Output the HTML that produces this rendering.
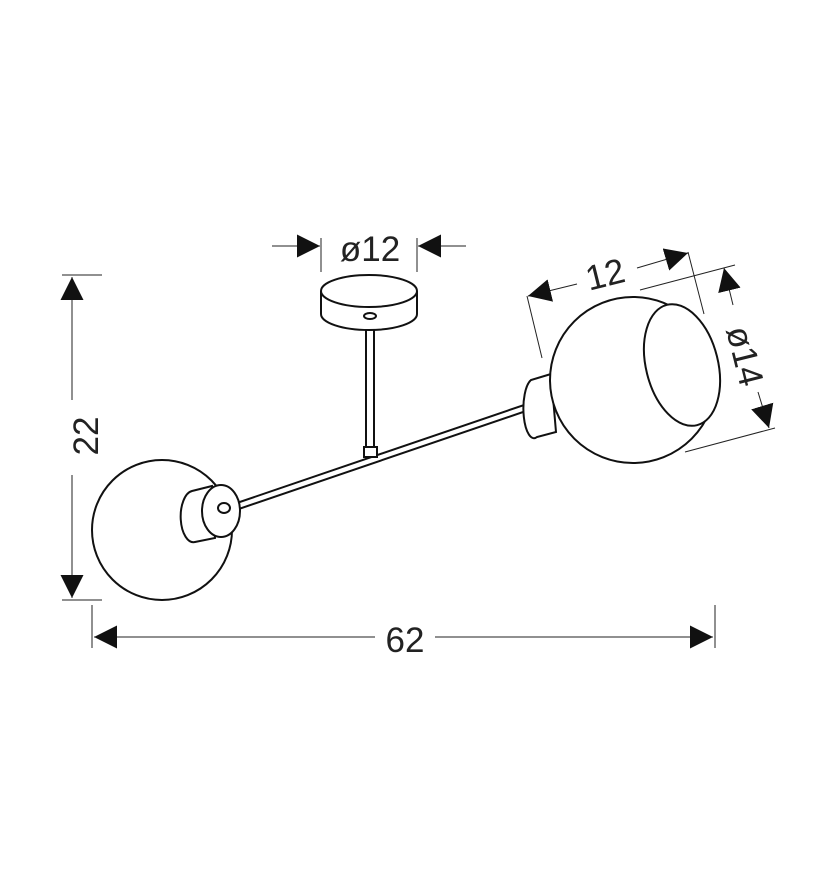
<!DOCTYPE html>
<html><head><style>body{margin:0;background:#fff}svg{display:block}</style></head><body>
<svg width="828" height="886" viewBox="0 0 828 886" xmlns="http://www.w3.org/2000/svg" font-family="Liberation Sans, Arial, sans-serif">
<defs><marker id="a" viewBox="0 0 10 10" refX="10" refY="5" markerWidth="23" markerHeight="23" markerUnits="userSpaceOnUse" orient="auto"><path d="M0,0 L10,5 L0,10 z" fill="#111"/></marker></defs>
<g stroke="#222" stroke-width="1" fill="none">
<line x1="62" y1="275" x2="102" y2="275"/><line x1="62" y1="600" x2="102" y2="600"/>
<line x1="72" y1="400" x2="72" y2="277" marker-end="url(#a)"/>
<line x1="72" y1="475" x2="72" y2="598" marker-end="url(#a)"/>
<line x1="92" y1="605" x2="92" y2="648"/><line x1="715" y1="605" x2="715" y2="648"/>
<line x1="375" y1="637" x2="94" y2="637" marker-end="url(#a)"/>
<line x1="435" y1="637" x2="713" y2="637" marker-end="url(#a)"/>
<line x1="321" y1="238" x2="321" y2="272"/><line x1="417" y1="238" x2="417" y2="272"/>
<line x1="272" y1="246" x2="320" y2="246" marker-end="url(#a)"/>
<line x1="466" y1="246" x2="418" y2="246" marker-end="url(#a)"/>
<line x1="527" y1="296" x2="542" y2="358"/><line x1="688" y1="252" x2="704" y2="314"/>
<line x1="577" y1="284" x2="528" y2="296" marker-end="url(#a)"/>
<line x1="637" y1="268" x2="688" y2="253" marker-end="url(#a)"/>
<line x1="640" y1="290" x2="735" y2="265"/><line x1="685" y1="452" x2="775" y2="428"/>
<line x1="733" y1="305" x2="724" y2="268" marker-end="url(#a)"/>
<line x1="758" y1="392" x2="769" y2="428" marker-end="url(#a)"/>
</g>
<g font-size="35" fill="#222" text-anchor="middle">
<text x="86" y="436" transform="rotate(-90 86 436)" dy="12">22</text>
<text x="405" y="652">62</text>
<text x="370" y="261">ø12</text>
<text x="608" y="286" transform="rotate(-14 608 286)">12</text>
<text x="745" y="356" transform="rotate(76 745 356)" dy="12">ø14</text>
</g>
<g stroke="#111" stroke-width="2" fill="#fff">
<path d="M228,506 L527,404 L529,410 L230,512 Z"/>
<rect x="366" y="316" width="8" height="134"/>
<rect x="364" y="447" width="13" height="10"/>
<path d="M321,291 L321,314 A48,16 0 0 0 417,314 L417,291"/>
<ellipse cx="369" cy="291" rx="48" ry="16"/>
<ellipse cx="370" cy="316" rx="6" ry="3"/>
<circle cx="162" cy="530" r="70"/>
<path d="M212,486 L192,491 A12,24 0 0 0 195,542 L215,538 Z"/>
<ellipse cx="221" cy="511" rx="19" ry="26"/>
<ellipse cx="224" cy="508" rx="6" ry="5"/>
<path d="M551,374 L531,380 A10,28 0 0 0 537,437 L556,432 Z"/>
<circle cx="633" cy="380" r="83"/>
<ellipse cx="682" cy="365" rx="36" ry="62" transform="rotate(-14 682 365)"/>
</g>
</svg>
</body></html>
